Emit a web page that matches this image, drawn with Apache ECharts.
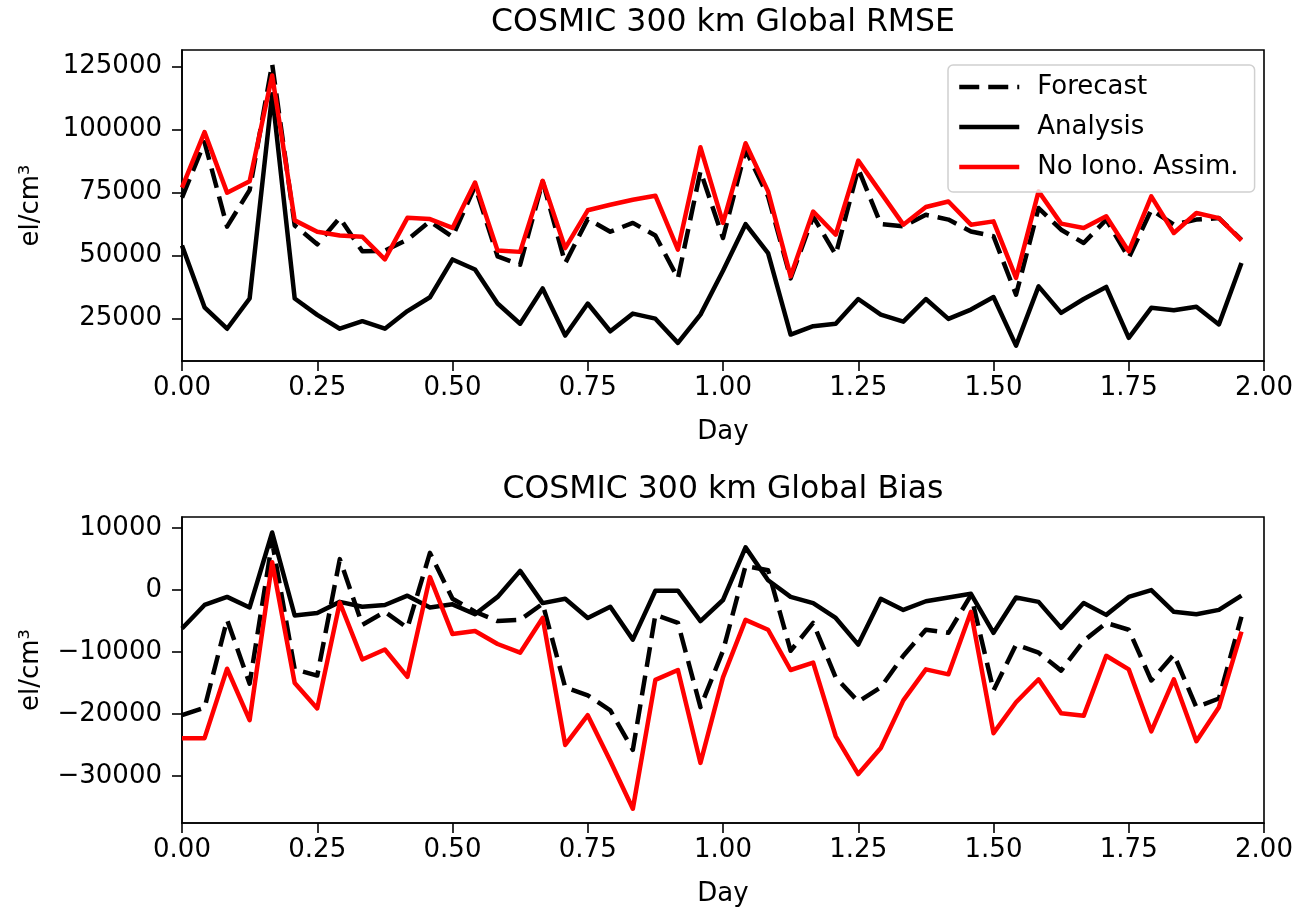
<!DOCTYPE html>
<html>
<head>
<meta charset="utf-8">
<title>COSMIC 300 km Global RMSE / Bias</title>
<script src="https://cdn.jsdelivr.net/npm/echarts@6/dist/echarts.min.js"></script>
<style>
    html, body { margin: 0; padding: 0; background: #fff; }
    #chart { width: 1297px; height: 908px; }
</style>
</head>
<body>
<div id="chart"></div>
<script>
// 时间(小时)
var hours = [0, 1, 2, 3, 4, 5, 6, 7, 8, 9, 10, 11, 12, 13, 14, 15, 16, 17, 18, 19, 20, 21, 22, 23,
    24, 25, 26, 27, 28, 29, 30, 31, 32, 33, 34, 35, 36, 37, 38, 39, 40, 41, 42, 43, 44, 45, 46, 47];

// RMSE
var rmseForecast = [73000, 95000, 61500, 76000, 126000, 62000, 54500, 65000, 51700, 52000, 56300, 63600,
    57500, 77500, 49700, 46400, 79500, 47000, 64500, 59500, 63000, 58000, 41000, 83500,
    57000, 92000, 73500, 41000, 65500, 50400, 84500, 62500, 61600, 66200, 64300, 59600,
    57700, 34500, 68900, 60300, 55000, 64300, 49100, 68200, 62300, 64300, 64900, 56300];
var rmseAnalysis = [54000, 29500, 21000, 33000, 114000, 33000, 26500, 21000, 24000, 21000, 28000, 33500,
    48500, 44500, 31000, 23000, 37000, 18300, 31000, 20000, 27000, 25000, 15400, 26600,
    44000, 62500, 51000, 18700, 22000, 23000, 32800, 26600, 23800, 32800, 24900, 28600,
    33600, 14300, 37800, 27300, 32800, 37600, 17400, 29300, 28300, 29700, 22700, 47100];
var rmseNoIono = [77000, 99000, 75000, 79500, 121500, 64000, 59500, 58000, 57500, 48500, 65000, 64500,
    61000, 79000, 52000, 51500, 79700, 53000, 68000, 70200, 72200, 73800, 52400, 93000,
    63000, 94600, 75500, 41800, 67500, 58300, 87700, 75000, 62300, 69300, 71500, 62300,
    63600, 41200, 75500, 62700, 61000, 65600, 51700, 73500, 59000, 66900, 64900, 56100];

// Bias
var biasForecast = [-20200, -19000, -4800, -15100, 7800, -12800, -13800, 5000, -5600, -3500, -6100, 6000,
    -1400, -3500, -5000, -4800, -2200, -15700, -17000, -19400, -25800, -4000, -5300, -18900,
    -9800, 3900, 3200, -9800, -5300, -14100, -18000, -15700, -10600, -6400, -6900, -800,
    -16200, -8800, -10100, -13000, -8200, -5300, -6400, -14600, -10400, -18900, -17500, -4300];
var biasAnalysis = [-6200, -2400, -1100, -2800, 9300, -4100, -3700, -1900, -2700, -2400, -900, -2800,
    -2300, -3900, -1100, 3100, -2100, -1400, -4500, -2700, -8000, -100, -100, -5000,
    -1600, 6900, 1600, -1100, -2100, -4500, -8800, -1400, -3200, -1800, -1200, -600,
    -6900, -1200, -1900, -6100, -2100, -4000, -1100, 0, -3500, -3900, -3200, -900];
var biasNoIono = [-23900, -23900, -12700, -21000, 4500, -15000, -19100, -2000, -11200, -9600, -14000, 2100,
    -7100, -6600, -8700, -10100, -4500, -25000, -20200, -27600, -35300, -14500, -12900, -27900,
    -14100, -4800, -6400, -12900, -11700, -23600, -29700, -25500, -17800, -12800, -13600, -3500,
    -23100, -18100, -14400, -19900, -20300, -10600, -12800, -22800, -14400, -24400, -18900, -6700];

// 刻度
var rmseTicks = [25000, 50000, 75000, 100000, 125000];
var biasTicks = [-30000, -20000, -10000, 0, 10000];

var FONT = 'DejaVu Sans';

// [天, 值]
function toPairs(values) {
    var arr = [];
    for (var i = 0; i < values.length; i++) {
        arr.push([hours[i] / 24, values[i]]);
    }
    return arr;
}

function xAxisOpt(gridIndex) {
    return {
        gridIndex: gridIndex,
        type: 'value',
        min: 0,
        max: 2,
        interval: 0.25,
        name: 'Day',
        nameLocation: 'middle',
        nameGap: 58,
        nameTextStyle: {color: '#000', fontSize: 26, fontFamily: FONT},
        axisLine: {show: true, onZero: false, lineStyle: {color: '#000', width: 1.6}},
        axisTick: {show: true, inside: false, length: 10, lineStyle: {color: '#000', width: 1.6}},
        axisLabel: {
            color: '#000', fontSize: 26, fontFamily: FONT, margin: 14,
            formatter: function (v) { return v.toFixed(2); }
        },
        splitLine: {show: false}
    };
}

function yAxisOpt(gridIndex, min, max, ticks) {
    return {
        gridIndex: gridIndex,
        type: 'value',
        min: min,
        max: max,
        name: 'el/cm³',
        nameLocation: 'middle',
        nameRotate: 90,
        nameGap: 138,
        nameTextStyle: {color: '#000', fontSize: 26, fontFamily: FONT},
        axisLine: {show: true, onZero: false, lineStyle: {color: '#000', width: 1.6}},
        axisTick: {show: true, inside: false, length: 10, customValues: ticks, lineStyle: {color: '#000', width: 1.6}},
        axisLabel: {
            color: '#000', fontSize: 26, fontFamily: FONT, margin: 20, customValues: ticks,
            formatter: function (v) { return String(v).replace('-', '\u2212'); }
        },
        splitLine: {show: false}
    };
}

function lineSeries(name, idx, values, color, dashed) {
    return {
        name: name,
        type: 'line',
        xAxisIndex: idx,
        yAxisIndex: idx,
        data: toPairs(values),
        showSymbol: false,
        symbol: 'none',
        animation: false,
        lineStyle: {color: color, width: 4.5, type: dashed ? [20, 9] : 'solid', join: 'round', cap: 'butt'},
        itemStyle: {color: color}
    };
}

var chart = echarts.init(document.getElementById('chart'));
var option = {
    backgroundColor: '#fff',
    animation: false,
    textStyle: {fontFamily: FONT},
    title: [
        {text: 'COSMIC 300 km Global RMSE', left: 718, top: 2, textAlign: 'center',
            textStyle: {color: '#000', fontSize: 31.5, fontWeight: 'normal', fontFamily: FONT}},
        {text: 'COSMIC 300 km Global Bias', left: 718, top: 469, textAlign: 'center',
            textStyle: {color: '#000', fontSize: 31.5, fontWeight: 'normal', fontFamily: FONT}}
    ],
    legend: {
        data: ['Forecast', 'Analysis', 'No Iono. Assim.'],
        orient: 'vertical',
        left: 948,
        top: 65,
        padding: [9, 16, 12, 9],
        itemWidth: 60,
        itemHeight: 26,
        itemGap: 14,
        itemStyle: {opacity: 0},
        lineStyle: {width: 4.5, type: 'inherit'},
        backgroundColor: 'rgba(255,255,255,0.8)',
        borderColor: '#d0d0d0',
        borderWidth: 1.5,
        borderRadius: 5,
        textStyle: {color: '#000', fontSize: 26, fontFamily: FONT, padding: [0, 0, 0, 13]}
    },
    grid: [
        {left: 182, top: 50, width: 1082, height: 311, show: true, borderColor: '#000', borderWidth: 1.6, backgroundColor: 'transparent'},
        {left: 182, top: 517, width: 1082, height: 311, show: true, borderColor: '#000', borderWidth: 1.6, backgroundColor: 'transparent'}
    ],
    xAxis: [xAxisOpt(0), xAxisOpt(1)],
    yAxis: [
        yAxisOpt(0, 8200, 131600, rmseTicks),
        yAxisOpt(1, -37600, 11800, biasTicks)
    ],
    series: [
        lineSeries('Forecast', 0, rmseForecast, '#000', true),
        lineSeries('Analysis', 0, rmseAnalysis, '#000', false),
        lineSeries('No Iono. Assim.', 0, rmseNoIono, '#ff0000', false),
        lineSeries('Forecast', 1, biasForecast, '#000', true),
        lineSeries('Analysis', 1, biasAnalysis, '#000', false),
        lineSeries('No Iono. Assim.', 1, biasNoIono, '#ff0000', false)
    ]
};
chart.setOption(option);
</script>
</body>
</html>
